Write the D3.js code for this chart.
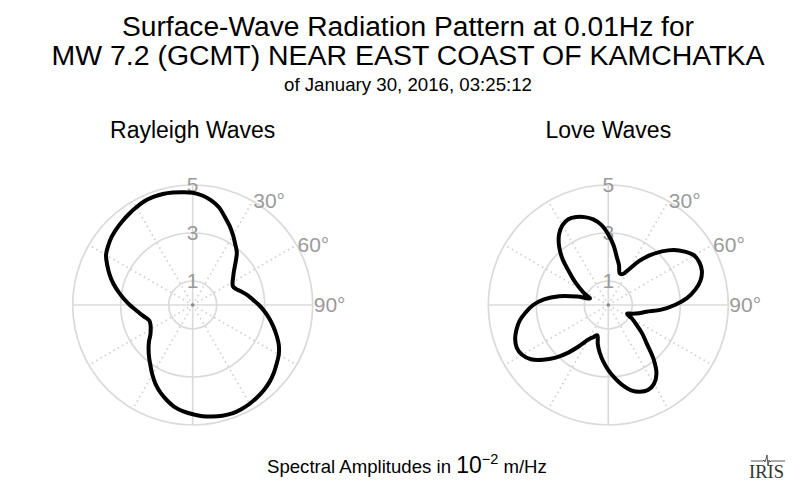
<!DOCTYPE html>
<html>
<head>
<meta charset="utf-8">
<script src="https://cdn.jsdelivr.net/npm/d3@7"></script>
<style>
  body { margin: 0; background: #fff; }
  svg { display: block; font-family: "Liberation Sans", Arial, sans-serif; }
</style>
</head>
<body>
<div id="chart"></div>
<script>
// azimuth (degrees clockwise from north) of each sample
var azimuths = [0, 5, 10, 15, 20, 25, 30, 35, 40, 45, 50, 55, 60, 65, 70, 75, 80, 85,
  90, 95, 100, 105, 110, 115, 120, 125, 130, 135, 140, 145, 150, 155, 160, 165, 170, 175,
  180, 185, 190, 195, 200, 205, 210, 215, 220, 225, 230, 235, 240, 245, 250, 255, 260, 265,
  270, 275, 280, 285, 290, 295, 300, 305, 310, 315, 320, 325, 330, 335, 340, 345, 350, 355];

// spectral amplitudes, 10^-2 m/Hz
var rayleigh = [4.68, 4.58, 4.43, 4.22, 3.91, 3.64, 3.36, 3.09, 2.86, 2.53, 2.25, 2.06, 1.92, 1.85, 1.93, 2.12, 2.33, 2.52,
  2.76, 3.00, 3.24, 3.48, 3.72, 3.96, 4.14, 4.27, 4.41, 4.53, 4.62, 4.69, 4.75, 4.79, 4.81, 4.78, 4.72, 4.65,
  4.55, 4.45, 4.32, 4.12, 3.90, 3.65, 3.36, 3.07, 2.83, 2.60, 2.38, 2.15, 2.02, 1.94, 1.92, 2.03, 2.20, 2.38,
  2.62, 2.87, 3.14, 3.42, 3.68, 3.93, 4.17, 4.30, 4.41, 4.49, 4.56, 4.63, 4.70, 4.77, 4.79, 4.79, 4.76, 4.72];

var love = [2.94, 2.50, 2.03, 1.72, 1.40, 1.42, 1.71, 2.23, 2.71, 3.16, 3.57, 3.88, 4.13, 4.19, 4.15, 3.98, 3.68, 3.29,
  2.77, 2.22, 1.61, 1.32, 1.06, 0.86, 1.15, 1.43, 1.84, 2.26, 2.93, 3.50, 3.80, 3.91, 3.85, 3.68, 3.39, 3.05,
  2.71, 2.37, 2.03, 1.69, 1.34, 1.48, 1.66, 2.07, 2.59, 3.10, 3.55, 3.94, 4.15, 4.21, 4.13, 3.96, 3.75, 3.45,
  3.13, 2.69, 2.08, 1.35, 0.81, 1.08, 1.35, 1.71, 2.11, 2.69, 3.19, 3.58, 3.83, 3.94, 3.90, 3.79, 3.62, 3.35];

var ringValues = [1, 3, 5];
var ringLabels = ["1", "3", "5"];
var angleLabels = [30, 60, 90];
var spokeAngles = [30, 60, 120, 150, 210, 240, 300, 330];
var axisAngles = [0, 90];

var titleLines = [
  "Surface-Wave Radiation Pattern at 0.01Hz for",
  "MW 7.2 (GCMT) NEAR EAST COAST OF KAMCHATKA",
  "of January 30, 2016, 03:25:12"
];

var w = 800;
var h = 496;

var svg = d3.select("#chart")
  .append("svg")
  .attr("width", w)
  .attr("height", h);

var r = d3.scaleLinear()
  .domain([0, 5])
  .range([0, 120]);

function rad(deg) { return deg * Math.PI / 180; }

var radial = d3.lineRadial()
  .angle(function(d, i) { return rad(azimuths[i]); })
  .radius(function(d) { return r(d); })
  .curve(d3.curveCatmullRomClosed.alpha(0.5));

// title
svg.append("g")
  .selectAll("text")
  .data(titleLines)
  .enter()
    .append("text")
    .attr("x", 408)
    .attr("y", function(d, i) { return [36, 64.5, 91][i]; })
    .attr("text-anchor", "middle")
    .attr("textLength", function(d, i) { return [572, 713, 248][i]; })
    .attr("lengthAdjust", "spacingAndGlyphs")
    .style("font-size", function(d, i) { return i < 2 ? "28.2px" : "18.6px"; })
    .style("fill", "#000")
    .text(function(d) { return d; });

function drawPanel(cx, cy, name, values) {
  var g = svg.append("g")
    .attr("transform", "translate(" + cx + "," + cy + ")");

  svg.append("text")
    .attr("x", cx)
    .attr("y", 138)
    .attr("text-anchor", "middle")
    .style("font-size", "23px")
    .text(name);

  // rings
  g.selectAll("circle.ring")
    .data(ringValues)
    .enter()
      .append("circle")
      .attr("class", "ring")
      .attr("r", function(d) { return r(d); })
      .style("fill", "none")
      .style("stroke", "#dadada")
      .style("stroke-width", 1.7);

  // dotted spokes
  g.selectAll("line.spoke")
    .data(spokeAngles)
    .enter()
      .append("line")
      .attr("class", "spoke")
      .attr("x1", 0)
      .attr("y1", 0)
      .attr("x2", function(d) { return r(5) * Math.sin(rad(d)); })
      .attr("y2", function(d) { return -r(5) * Math.cos(rad(d)); })
      .style("stroke", "#cfcfcf")
      .style("stroke-width", 1.7)
      .style("stroke-dasharray", "1.5,3.5");

  // solid axes
  g.selectAll("line.axis")
    .data(axisAngles)
    .enter()
      .append("line")
      .attr("class", "axis")
      .attr("x1", function(d) { return -r(5) * Math.sin(rad(d)); })
      .attr("y1", function(d) { return r(5) * Math.cos(rad(d)); })
      .attr("x2", function(d) { return r(5) * Math.sin(rad(d)); })
      .attr("y2", function(d) { return -r(5) * Math.cos(rad(d)); })
      .style("stroke", "#dadada")
      .style("stroke-width", 1.7);

  g.append("circle")
    .attr("r", 1.8)
    .style("fill", "#888");

  // ring labels
  g.selectAll("text.ringlab")
    .data(ringValues)
    .enter()
      .append("text")
      .attr("class", "ringlab")
      .attr("x", 0)
      .attr("y", function(d) { return -r(d); })
      .attr("dy", "0.35em")
      .attr("text-anchor", "middle")
      .style("font-size", "21px")
      .style("fill", "#9a9a9a")
      .text(function(d, i) { return ringLabels[i]; });

  // angle labels
  g.selectAll("text.anglab")
    .data(angleLabels)
    .enter()
      .append("text")
      .attr("class", "anglab")
      .attr("x", function(d) { return (r(5) + 1) * Math.sin(rad(d)); })
      .attr("y", function(d) { return -(r(5) + 1) * Math.cos(rad(d)); })
      .attr("dy", "0.35em")
      .attr("text-anchor", "start")
      .style("font-size", "21px")
      .style("fill", "#9a9a9a")
      .text(function(d) { return d + "\u00b0"; });

  // pattern
  g.append("path")
    .datum(values)
    .attr("d", radial)
    .style("fill", "none")
    .style("stroke", "#000")
    .style("stroke-width", 4)
    .style("stroke-linejoin", "round");
}

drawPanel(192.7, 305, "Rayleigh Waves", rayleigh);
drawPanel(608.3, 305, "Love Waves", love);

// units note
var note = svg.append("text")
  .attr("x", 267)
  .attr("y", 473)
  .style("font-size", "18.6px");
note.append("tspan").text("Spectral Amplitudes in ");
note.append("tspan").style("font-size", "23px").text("10");
note.append("tspan").style("font-size", "14.5px").attr("dy", -9).text("\u22122");
note.append("tspan").attr("dy", 9).text(" m/Hz");

// IRIS logo
var logo = svg.append("g")
  .attr("transform", "translate(749,478)");
logo.append("path")
  .attr("d", "M2,-17 L14,-17 L15,-18 L16,-16 L17,-19 L18,-23 L19,-12 L20,-18 L21,-16 L22,-17 L36,-17")
  .style("fill", "none")
  .style("stroke", "#444")
  .style("stroke-width", 0.9);
logo.append("text")
  .attr("x", 0)
  .attr("y", 0)
  .style("font-family", "'Liberation Serif', 'DejaVu Serif', serif")
  .style("font-size", "18.5px")
  .style("fill", "#333")
  .text("IRIS");
</script>
</body>
</html>
